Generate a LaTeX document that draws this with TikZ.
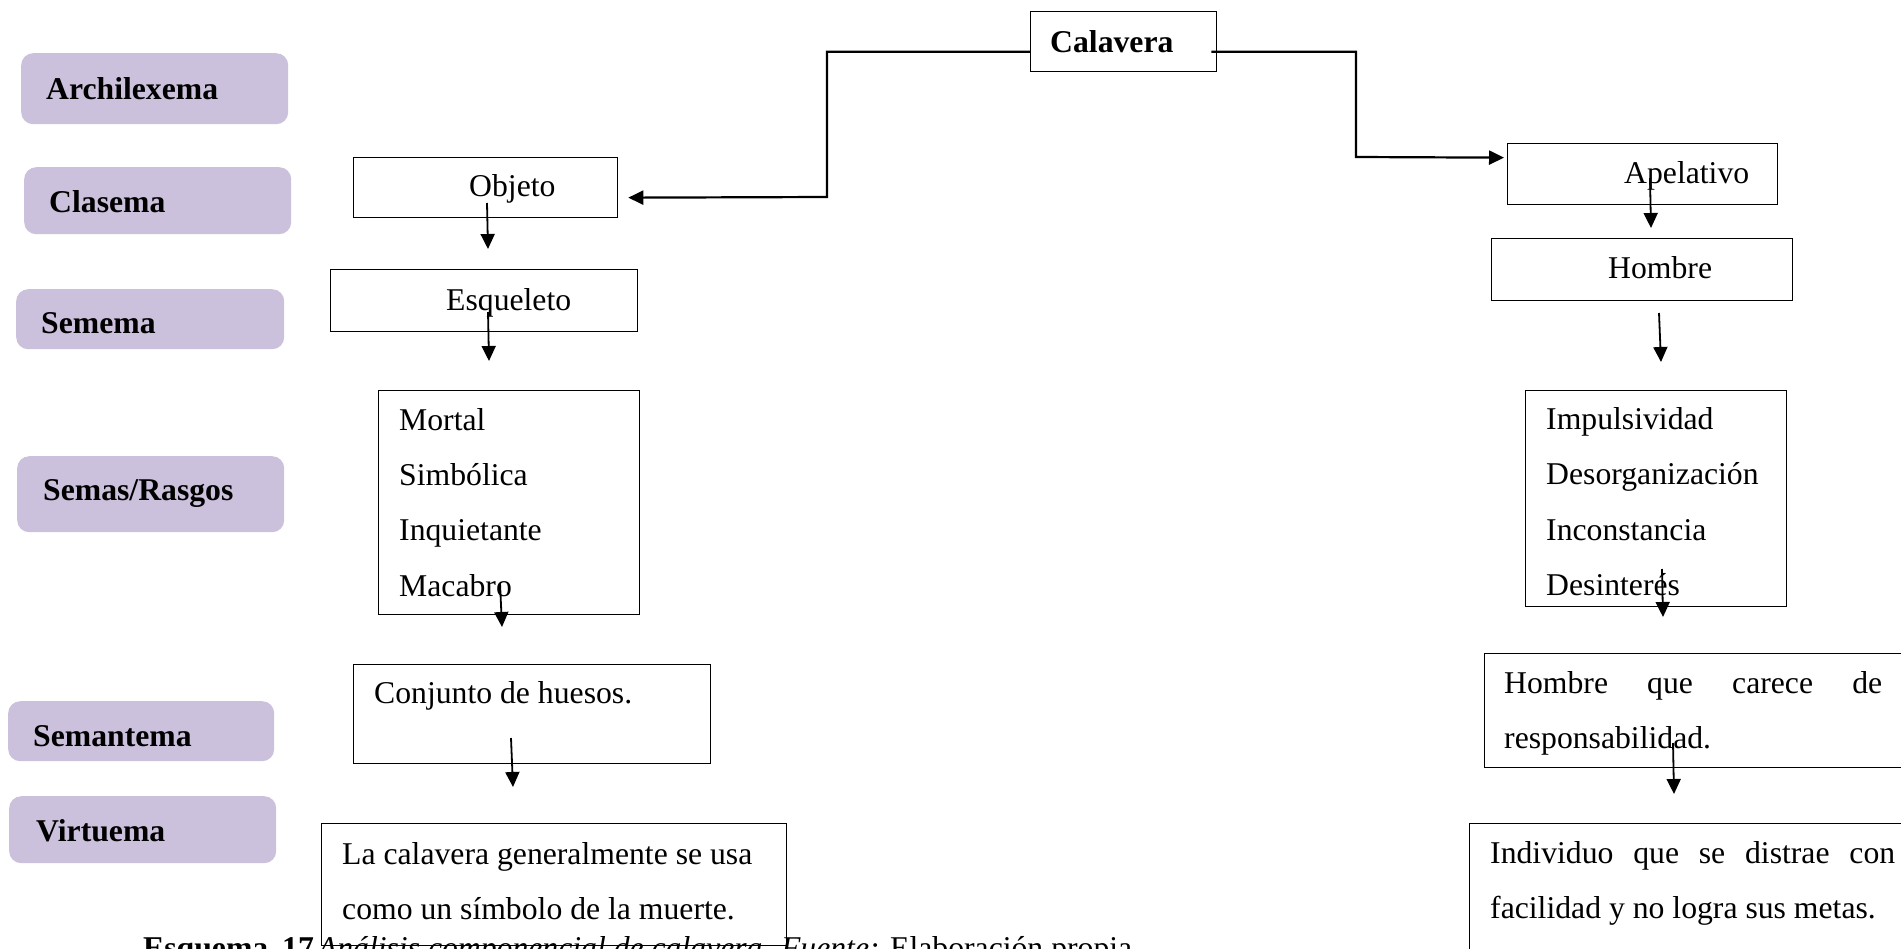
\documentclass[tikz,border=0pt]{standalone}
\usepackage{fontspec}
\setmainfont{Liberation Serif}
\usetikzlibrary{arrows.meta}
\definecolor{lila}{RGB}{204,193,220}
\begin{document}
\begin{tikzpicture}[x=1pt,y=-1pt,
  font=\fontsize{31.7}{38}\selectfont,
  level/.style={fill=lila, rounded corners=12pt, inner sep=0pt, anchor=north west},
  tbox/.style={draw=black, line width=1.3pt, fill=white, inner sep=0pt, anchor=north west},
  txt/.style={anchor=base west, inner sep=0pt},
  link/.style={line width=2.2pt},
  down/.style={line width=1.8pt, -{Triangle[width=14pt,length=15pt]}}
]
\clip (0,0) rectangle (1901,948);
\fill[white] (0,0) rectangle (1901,948);

% level labels (left column)
\node[level, minimum width=267pt, minimum height=71pt] (lArchi) at (21,53) {};
\node[txt] (tArchi) at (46,99) {\bfseries Archilexema};
\node[level, minimum width=267pt, minimum height=67pt] (lClas) at (24,167) {};
\node[txt] (tClas) at (49,212) {\bfseries Clasema};
\node[level, minimum width=268pt, minimum height=60pt] (lSeme) at (16,289) {};
\node[txt] (tSeme) at (41,333) {\bfseries Semema};
\node[level, minimum width=267pt, minimum height=76pt] (lRasg) at (17,456) {};
\node[txt] (tRasg) at (43,500) {\bfseries Semas/Rasgos};
\node[level, minimum width=266pt, minimum height=60pt] (lSemant) at (8,701) {};
\node[txt] (tSemant) at (33,746) {\bfseries Semantema};
\node[level, minimum width=267pt, minimum height=67pt] (lVirt) at (9,796) {};
\node[txt] (tVirt) at (36,841) {\bfseries Virtuema};

% archilexeme
\node[tbox, minimum width=186pt, minimum height=60pt] (cal) at (1030,11) {};
\node[txt] (tCal) at (1050,52) {\bfseries Calavera};

% branch: objeto
\node[tbox, minimum width=264pt, minimum height=60pt] (obj) at (353,157) {};
\node[txt] (tObj) at (469,196) {Objeto};
\node[tbox, minimum width=307pt, minimum height=62pt] (esq) at (330,269) {};
\node[txt] (tEsq) at (446,310) {Esqueleto};
\node[tbox, minimum width=261pt, minimum height=224pt] (rasI) at (378,390) {};
\node[txt] (tRasI) at (399,430) {\parbox[t]{230pt}{\setlength\baselineskip{55.4pt}Mortal\\Simbólica\\Inquietante\\Macabro}};
\node[tbox, minimum width=357pt, minimum height=99pt] (conj) at (353,664) {};
\node[txt] (tConj) at (374,703) {Conjunto de huesos.};
\node[tbox, minimum width=465pt, minimum height=122pt] (virI) at (321,823) {};
\node[txt] (tVirI) at (342,864) {\parbox[t]{440pt}{\setlength\baselineskip{55pt}La calavera generalmente se usa\\como un símbolo de la muerte.}};

% branch: apelativo
\node[tbox, minimum width=270pt, minimum height=61pt] (ape) at (1507,143) {};
\node[txt] (tApe) at (1624,183) {Apelativo};
\node[tbox, minimum width=301pt, minimum height=62pt] (hom) at (1491,238) {};
\node[txt] (tHom) at (1608,278) {Hombre};
\node[tbox, minimum width=261pt, minimum height=216pt] (rasD) at (1525,390) {};
\node[txt] (tRasD) at (1546,429) {\parbox[t]{235pt}{\setlength\baselineskip{55.6pt}Impulsividad\\Desorganización\\Inconstancia\\Desinterés}};
\node[tbox, minimum width=440pt, minimum height=114pt] (semD) at (1484,653) {};
\node[txt] (tSemD) at (1504,693) {\parbox[t]{390pt}{\setlength\baselineskip{55pt}\makebox[378pt][s]{Hombre que carece de}\\responsabilidad.}};
\node[tbox, minimum width=460pt, minimum height=140pt] (virD) at (1469,823) {};
\node[txt] (tVirD) at (1490,863) {\parbox[t]{420pt}{\setlength\baselineskip{55pt}\makebox[405pt][s]{Individuo que se distrae con}\\facilidad y no logra sus metas.}};

% connectors from the archilexeme
\draw[link, -{Triangle[width=14pt,length=15pt]}] ([yshift=-10pt]cal.west) -| (827,197) -- ([xshift=10pt,yshift=-10pt]obj.east);
\draw[link, -{Triangle[width=14pt,length=15pt]}] ([xshift=-6pt,yshift=-10pt]cal.east) -| (1356,157) -- ([xshift=-3pt,yshift=16.5pt]ape.west);

% vertical arrows
\coordinate (a1) at (487,203); \coordinate (b1) at (488,249);
\coordinate (a2) at (488,312); \coordinate (b2) at (489,361);
\coordinate (a3) at (500,583); \coordinate (b3) at (502,627);
\coordinate (a4) at (511,738); \coordinate (b4) at (513,787);
\coordinate (a5) at (1650,178); \coordinate (b5) at (1651,228);
\coordinate (a6) at (1659,313); \coordinate (b6) at (1661,362);
\coordinate (a7) at (1662,569); \coordinate (b7) at (1663,617);
\coordinate (a8) at (1673,743); \coordinate (b8) at (1674,794);
\foreach \i in {1,...,8} \draw[down] (a\i) -- (b\i);

% caption
\node[txt] (cap) at (143,958) {\textbf{Esquema\hspace{14pt}17}\hspace{4pt}\textit{Análisis componencial de calavera. Fuente:} Elaboración propia};
\end{tikzpicture}
\end{document}
